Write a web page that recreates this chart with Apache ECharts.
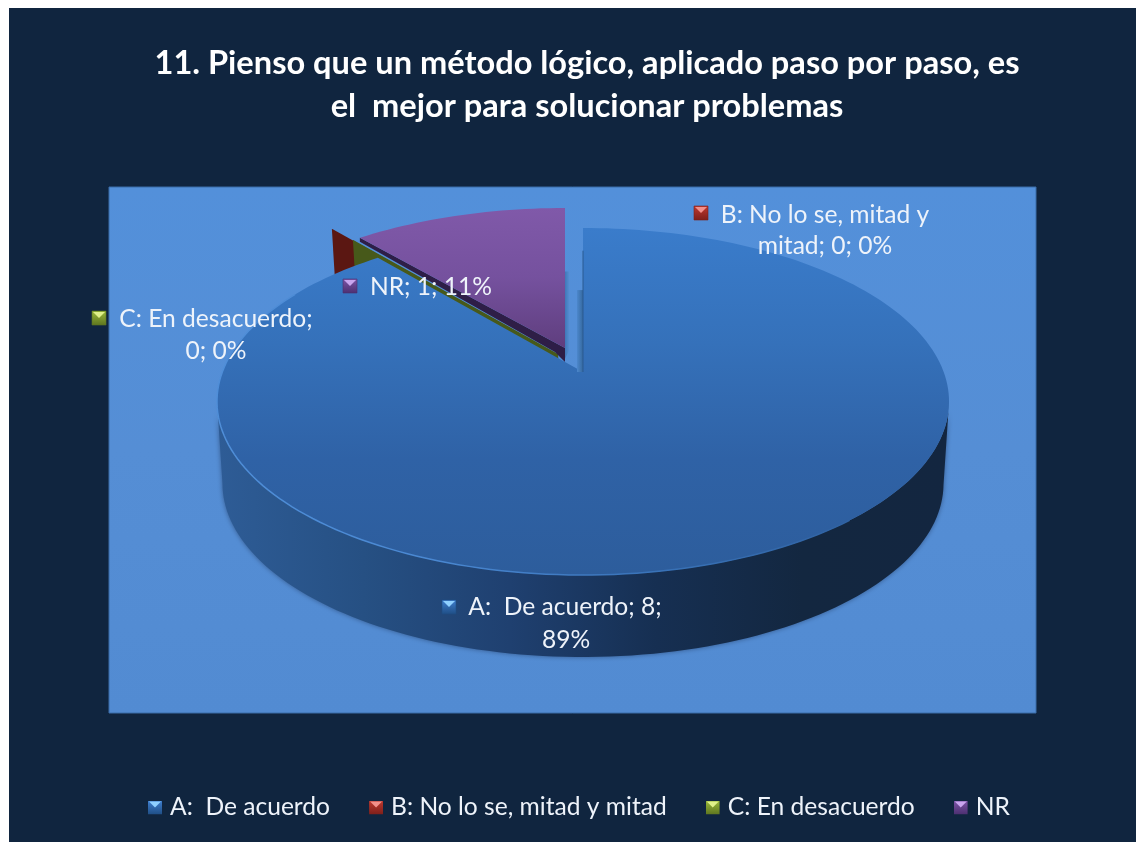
<!DOCTYPE html>
<html>
<head>
<meta charset="utf-8">
<style>html,body{margin:0;padding:0;background:#fff}#c{width:1136px;height:842px}</style>
<script src="https://cdn.jsdelivr.net/npm/echarts@6/dist/echarts.min.js"></script>
</head>
<body>
<div id="c"></div>
<script>
const titleText = '11. Pienso que un método lógico, aplicado paso por paso, es\nel  mejor para solucionar problemas';
const categories = ['A:  De acuerdo', 'B: No lo se, mitad y mitad', 'C: En desacuerdo', 'NR'];
const values = [8, 0, 0, 1];
const percents = [89, 0, 0, 11];
const labelLines = [
  [categories[0] + '; ' + values[0] + ';', percents[0] + '%'],
  ['B: No lo se, mitad y', 'mitad; ' + values[1] + '; ' + percents[1] + '%'],
  [categories[2] + ';', values[2] + '; ' + percents[2] + '%'],
  [categories[3] + '; ' + values[3] + '; ' + percents[3] + '%']
];
const markerBase = ['#3f7fd0', '#c0392f', '#9bbb3a', '#7d55a8'];
const markerLight = ['#8fd0ff', '#f2908a', '#dff08a', '#c9a5ef'];
const markerDark = ['#1f4e85', '#7d1f1a', '#5e7520', '#4c2f70'];

// layout of the slanted disc
const P = { cx: 583, cy: 372, r: 360.7, a: 168.5, k: -0.17, depth: 82, lowScale: 0.985 };
const explode = [[0, 0], [-46, -29], [-25, -18], [-18, -20]];
const total = values.reduce((s, v) => s + v, 0);
const starts = [];
values.reduce((s, v, i) => { starts[i] = s; return s + v / total * 360; }, 0);

function pt(deg, rr, off) {
  const t = deg * Math.PI / 180, u = rr * Math.sin(t), v = -rr * Math.cos(t), w = 1 + P.k * v;
  return [P.cx + P.r * u / w + off[0], P.cy + P.a * v / w + off[1]];
}
function arc(a0, a1, off) {
  const out = [];
  const n = Math.max(1, Math.ceil((a1 - a0) / 1.5));
  for (let i = 0; i <= n; i++) out.push(pt(a0 + (a1 - a0) * i / n, 1, off));
  return out;
}
const grad = (stops, horizontal) => ({
  type: 'linear', x: 0, y: 0, x2: horizontal ? 1 : 0, y2: horizontal ? 0 : 1,
  colorStops: stops.map((c, i) => ({ offset: i / (stops.length - 1), color: c }))
});

function renderA(params, api) {
  const v = api.value(0), i = params.seriesIndex, off = explode[i];
  const a0 = starts[i], a1 = a0 + v / total * 360;
  const rim = arc(a0, a1, off);
  const lowOf = p => [P.cx + (p[0] - P.cx) * P.lowScale, p[1] + P.depth];
  const apex = pt(0, 0, off);
  const xs = rim.map(p => p[0]);
  const iRight = xs.indexOf(Math.max(...xs)), iLeft = xs.indexOf(Math.min(...xs));
  const front = rim.slice(iRight, iLeft + 1);
  const wall = (r0, r1, dx) => {
    const p0 = pt(a0, r0, off), p1 = pt(a0, r1, off);
    return [[p0[0] + dx, p0[1]], [p0[0], p0[1]], [p1[0], p1[1]], [p1[0] + dx, p1[1]]];
  };
  return { type: 'group', silent: true, children: [
    { type: 'polygon', shape: { points: front.concat(front.map(lowOf).reverse()) },
      style: { fill: grad(['#2e5c96', '#265083', '#1f4070', '#162f52', '#132740', '#132640'], true),
        shadowBlur: 5, shadowColor: 'rgba(25,45,80,0.55)' } },
    { type: 'polygon', shape: { points: [apex].concat(rim) },
      style: { fill: grad(['#3a7ccb', '#3571ba', '#2f62a6', '#2d5d9c']) } },
    { type: 'polyline', shape: { points: arc(140, 300, off) },
      style: { fill: 'none', stroke: grad(['#4f8ed8', '#4a88d2', '#3a74ba', '#2f62a2'], true), lineWidth: 1.5 } },
    { type: 'polygon', shape: { points: wall(0, 0.53, -6) },
      style: { fill: grad(['#4c87cc', '#35699f'], true) } },
    { type: 'line', shape: { x1: apex[0], y1: apex[1], x2: apex[0], y2: pt(a0, 0.82, off)[1] },
      style: { stroke: '#2a5a92', lineWidth: 1 } }
  ] };
}
function renderZero(color) {
  return function (params, api) {
    const i = params.seriesIndex, off = explode[i];
    const a = starts[i] + api.value(0) / total * 360;
    const rim = pt(a, 1, off), ap = pt(a, 0, off);
    return { type: 'polygon', silent: true,
      shape: { points: [rim, ap, [ap[0] + 5, ap[1] + P.depth], [rim[0] + 5, rim[1] + P.depth]] },
      style: { fill: color } };
  };
}
function renderNR(params, api) {
  const v = api.value(0), i = params.seriesIndex, off = explode[i];
  const a0 = starts[i], a1 = a0 + v / total * 360;
  const rim = arc(a0, a1, off), base = pt(0, 0, off), apex = [base[0], base[1] - 4];
  const w0 = pt(0, 0.52, off), w1 = pt(0, 0.02, off);
  return { type: 'group', silent: true, children: [
    { type: 'polygon', shape: { points: [[w0[0], w0[1]], [w0[0] + 5, w0[1]], [w1[0] + 5, w1[1]], [w1[0], w1[1] + 10]] },
      style: { fill: grad(['#3f78b8', '#5a92d6'], true) } },
    { type: 'polygon', shape: { points: [rim[0], apex, [apex[0], apex[1] + 14], [apex[0] - 10, apex[1] + 4], [rim[0][0], rim[0][1] + 4]] },
      style: { fill: '#2e1e47' } },
    { type: 'polygon', shape: { points: [apex].concat(rim) },
      style: { fill: grad(['#8059a9', '#75519e', '#5f3e7e']) } }
  ] };
}

function icon(i) {
  const svg = '<svg xmlns="http://www.w3.org/2000/svg" width="14" height="14">' +
    '<defs><linearGradient id="g" x1="0" y1="0" x2="0" y2="1"><stop offset="0" stop-color="' + markerBase[i] +
    '"/><stop offset="1" stop-color="' + markerDark[i] + '"/></linearGradient></defs>' +
    '<rect width="14" height="14" fill="url(#g)"/><polygon points="1,1 13,1 7,7" fill="' + markerLight[i] + '"/></svg>';
  return 'image://data:image/svg+xml;charset=utf-8,' + encodeURIComponent(svg);
}

function marker(i, x, y) {
  return { type: 'group', x: x, y: y, silent: true, children: [
    { type: 'rect', z: 100, shape: { x: 0, y: 0, width: 14, height: 14 },
      style: { fill: grad([markerBase[i], markerDark[i]]), stroke: markerDark[i], lineWidth: 0.6 } },
    { type: 'polygon', z: 101, shape: { points: [[1, 1], [13, 1], [7, 7]] }, style: { fill: markerLight[i] } }
  ] };
}
function label(text, x, y) {
  return { type: 'text', x: x, y: y, z: 100, silent: true,
    style: { text: text, fill: '#eef3fa', font: '400 24.6px Lato', textAlign: 'center', textVerticalAlign: 'middle' } };
}

const chart = echarts.init(document.getElementById('c'), null, { renderer: 'canvas' });
chart.setOption({
  animation: false,
  backgroundColor: '#ffffff',
  title: {
    text: titleText, left: 582, top: 37, textAlign: 'center',
    textStyle: { color: '#ffffff', fontFamily: 'Lato', fontWeight: 700, fontSize: 32.6, lineHeight: 43 }
  },
  legend: {
    left: 148, top: 795, itemWidth: 14, itemHeight: 14, itemGap: 39, padding: 0,
    data: categories.map((n, i) => ({ name: n, icon: icon(i) })),
    textStyle: { color: '#eef3fa', fontFamily: 'Lato', fontSize: 24.6, padding: [0, 0, 0, 3] },
    selectedMode: false
  },
  graphic: { elements: [
    { type: 'rect', z: -20, silent: true, shape: { x: 9, y: 8, width: 1127, height: 834 }, style: { fill: '#10253f' } },
    { type: 'rect', z: -10, silent: true, shape: { x: 109, y: 187, width: 927, height: 526 },
      style: { fill: grad(['#5390da', '#558ed5', '#528bd2']), stroke: '#3a6ca8', lineWidth: 1 } },
    marker(0, 442, 600), label(labelLines[0][0], 565, 607), label(labelLines[0][1], 566, 640),
    marker(1, 694, 206), label(labelLines[1][0], 825, 215), label(labelLines[1][1], 825, 246),
    marker(2, 92, 311), label(labelLines[2][0], 216, 319), label(labelLines[2][1], 216, 351),
    marker(3, 343, 279), label(labelLines[3][0], 431, 287)
  ] },
  series: [
    { type: 'custom', name: categories[0], coordinateSystem: 'none', z: 8, renderItem: renderA, data: [[values[0]]], clip: false },
    { type: 'custom', name: categories[1], coordinateSystem: 'none', z: 5, renderItem: renderZero('#5b1712'), data: [[values[1]]] },
    { type: 'custom', name: categories[2], coordinateSystem: 'none', z: 6, renderItem: renderZero('#47591a'), data: [[values[2]]] },
    { type: 'custom', name: categories[3], coordinateSystem: 'none', z: 7, renderItem: renderNR, data: [[values[3]]] }
  ]
});
</script>
</body>
</html>
